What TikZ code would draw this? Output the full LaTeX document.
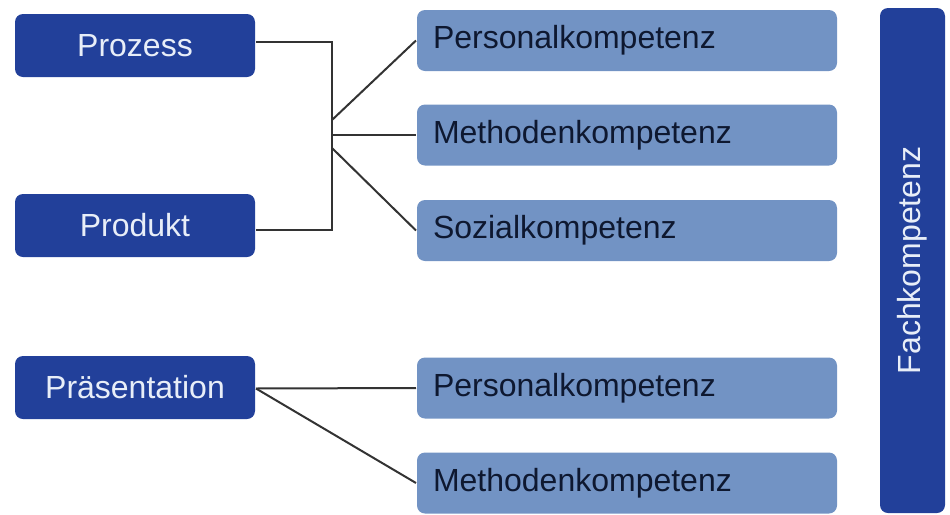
\documentclass[tikz,border=0pt]{standalone}
\usepackage{fontspec}
\setmainfont{Liberation Sans}
\usetikzlibrary{positioning}
\definecolor{darkblue}{RGB}{34,64,154}
\definecolor{lightblue}{RGB}{114,147,196}
\definecolor{paleblue}{RGB}{232,238,248}
\definecolor{inkblue}{RGB}{14,24,48}
\begin{document}
\begin{tikzpicture}[x=0.5pt,y=-0.5pt,
  line width=1pt,
  dark node/.style={rectangle,rounded corners=4pt,fill=darkblue,text=paleblue,
    minimum width=120pt,minimum height=31.5pt,inner sep=0pt,font=\fontsize{16}{19}\selectfont},
  light node/.style={rectangle,rounded corners=4pt,fill=lightblue,text=inkblue,
    text width=194pt,align=left,inner xsep=8pt,inner ysep=0pt,minimum height=30.5pt,
    font=\fontsize{16}{19}\selectfont},
  side node/.style={rectangle,rounded corners=4pt,fill=darkblue,text=paleblue,rotate=90,
    minimum width=252.5pt,minimum height=32.5pt,inner sep=0pt,font=\fontsize{16}{19}\selectfont},
  link/.style={draw=black!80}]

  \useasboundingbox (0,0) rectangle (950,515);

  \node[dark node] (10) at (135,45.5) {Prozess};
  \node[dark node] (11) at (135,225.5) {Produkt};
  \node[dark node] (12) at (135,387.5) {Präsentation};

  \node[light node] (21) at (627,40.5) {Personalkompetenz};
  \node[light node] (22) at (627,135) {Methodenkompetenz};
  \node[light node] (23) at (627,230.5) {Sozialkompetenz};
  \node[light node] (24) at (627,388) {Personalkompetenz};
  \node[light node] (25) at (627,483) {Methodenkompetenz};

  \node[side node] (30) at (912.5,260.5) {Fachkompetenz};

  \coordinate (01) at (332,135);
  \coordinate (02) at (332,120);
  \coordinate (03) at (332,148);

  \draw[link] ([yshift=2pt]10.east) -| (01) |- ([yshift=-2pt]11.east);
  \draw[link] (02) -- (21.west);
  \draw[link] (01) -- (22.west);
  \draw[link] (03) -- (23.west);
  \draw[link] ([yshift=-0.5pt]12.east) -- (24.west);
  \draw[link] ([yshift=-0.5pt]12.east) -- (25.west);
\end{tikzpicture}
\end{document}
